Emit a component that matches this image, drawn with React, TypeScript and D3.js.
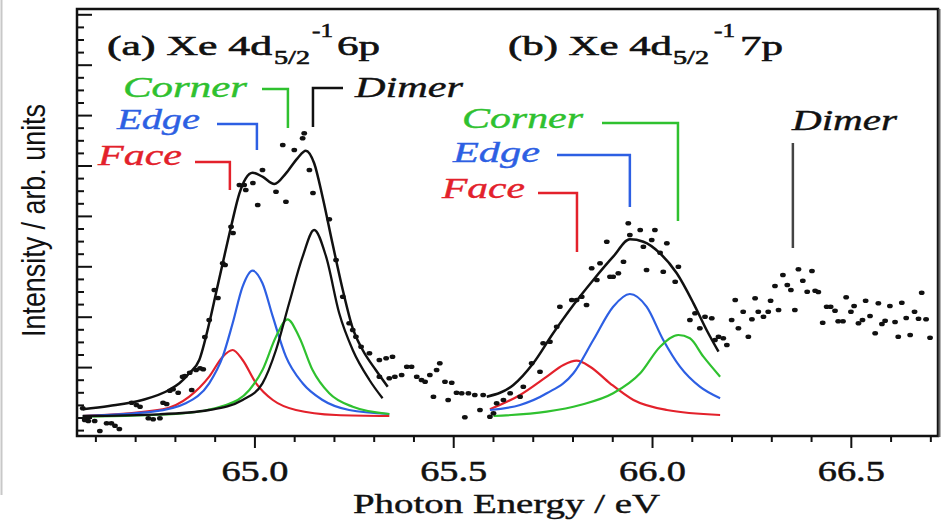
import { useEffect, useRef } from 'react'
import * as d3 from 'd3'

// Xe 4d(5/2)^-1 np resonances in clusters: fitted components + raw points.
// energies in eV, intensity in arb. units

const RED = '#e3212b'
const BLUE = '#2d5fe3'
const GREEN = '#2fc12f'
const INK = '#111'

const X_TICK_VALUES = [65.0, 65.5, 66.0, 66.5]
const X_TICK_LABELS = ['65.0', '65.5', '66.0', '66.5']

// (a) Xe 4d5/2^-1 6p
const FIT_A_TOTAL: [number, number][] = [
  [64.567, 0.114], [64.633, 0.18], [64.717, 0.3], [64.784, 0.5], [64.81, 0.634], [64.835, 0.834],
  [64.86, 1.1], [64.885, 1.834], [64.902, 2.434], [64.919, 3.034], [64.94, 3.766], [64.961, 4.434],
  [64.977, 4.734], [64.994, 4.846], [65.019, 4.766], [65.049, 4.62], [65.078, 4.834], [65.107, 5.134],
  [65.128, 5.286], [65.149, 5.034], [65.17, 4.366], [65.195, 3.434], [65.221, 2.5], [65.246, 1.734],
  [65.271, 1.3], [65.304, 0.9], [65.334, 0.566],
]
const FIT_A_DIMER: [number, number][] = [
  [64.567, -0.02], [64.759, 0.014], [64.885, 0.1], [64.969, 0.3], [65.019, 0.634], [65.053, 1.3],
  [65.086, 2.234], [65.12, 3.166], [65.149, 3.7], [65.179, 3.166], [65.212, 2.034], [65.246, 1.3],
  [65.288, 0.7], [65.321, 0.334],
]
const FIT_A_EDGE: [number, number][] = [
  [64.567, -0.02], [64.743, 0.066], [64.826, 0.234], [64.885, 0.634], [64.919, 1.166], [64.944, 1.834],
  [64.969, 2.566], [64.994, 2.886], [65.019, 2.634], [65.045, 1.966], [65.078, 1.166], [65.12, 0.634],
  [65.17, 0.3], [65.237, 0.1], [65.338, 0.02],
]
const FIT_A_FACE: [number, number][] = [
  [64.567, -0.02], [64.768, 0.114], [64.835, 0.366], [64.885, 0.766], [64.919, 1.166], [64.944, 1.3],
  [64.969, 1.1], [65.003, 0.634], [65.045, 0.3], [65.103, 0.1], [65.204, 0.0], [65.338, -0.02],
]
const FIT_A_CORNER: [number, number][] = [
  [64.567, -0.034], [64.801, 0.02], [64.927, 0.2], [64.986, 0.5], [65.019, 0.9], [65.053, 1.566],
  [65.082, 1.914], [65.111, 1.566], [65.145, 0.9], [65.187, 0.434], [65.246, 0.166], [65.338, 0.02],
]

// (b) Xe 4d5/2^-1 7p
const FIT_B_TOTAL: [number, number][] = [
  [65.583, 0.366], [65.65, 0.6], [65.7, 1.034], [65.75, 1.634], [65.801, 2.2], [65.851, 2.7],
  [65.901, 3.166], [65.943, 3.514], [65.977, 3.466], [66.019, 3.234], [66.061, 2.834], [66.103, 2.234],
  [66.136, 1.7], [66.166, 1.266],
]
const FIT_B_EDGE: [number, number][] = [
  [65.591, 0.1], [65.667, 0.2], [65.734, 0.434], [65.801, 0.834], [65.851, 1.5], [65.901, 2.166],
  [65.943, 2.42], [65.985, 2.166], [66.027, 1.5], [66.069, 0.966], [66.119, 0.566], [66.17, 0.334],
]
const FIT_B_FACE: [number, number][] = [
  [65.591, 0.114], [65.667, 0.4], [65.734, 0.766], [65.776, 1.0], [65.809, 1.086], [65.843, 0.966],
  [65.893, 0.634], [65.952, 0.3], [66.036, 0.1], [66.17, 0.0],
]
const FIT_B_CORNER: [number, number][] = [
  [65.6, -0.02], [65.734, 0.066], [65.818, 0.2], [65.901, 0.434], [65.969, 0.834], [66.019, 1.366],
  [66.065, 1.6], [66.094, 1.534], [66.128, 1.166], [66.17, 0.766],
]

// measured points
const DOTS: [number, number][] = [
  [64.567, 0.134], [64.572, -0.1], [64.581, -0.12], [64.597, -0.12], [64.61, -0.32], [64.627, -0.166],
  [64.639, -0.166], [64.648, -0.214], [64.659, -0.28], [64.69, 0.246], [64.702, 0.2], [64.711, 0.166],
  [64.732, -0.066], [64.744, -0.086], [64.761, -0.066], [64.769, 0.246], [64.778, 0.22], [64.786, 0.486],
  [64.794, 0.514], [64.807, 0.446], [64.818, 0.766], [64.824, 0.78], [64.836, 0.846], [64.841, 0.5],
  [64.852, 0.9], [64.862, 0.934], [64.87, 0.914], [64.874, 1.56], [64.885, 1.9], [64.898, 2.5],
  [64.907, 2.34], [64.919, 3.034], [64.925, 3.0], [64.94, 3.766], [64.945, 3.64], [64.961, 4.6],
  [64.973, 4.6], [64.977, 4.5], [64.995, 4.64], [65.007, 4.2], [65.019, 4.9], [65.053, 4.466],
  [65.07, 5.4], [65.078, 4.266], [65.099, 5.3], [65.12, 5.534], [65.124, 5.634], [65.137, 4.9],
  [65.146, 4.44], [65.187, 3.914], [65.204, 3.1], [65.221, 2.366], [65.237, 1.834], [65.246, 1.7],
  [65.254, 1.566], [65.267, 1.366], [65.288, 1.234], [65.313, 1.1], [65.33, 1.134], [65.346, 1.166],
  [65.313, 0.766], [65.338, 0.734], [65.352, 0.766], [65.369, 0.8], [65.382, 0.966], [65.394, 0.966],
  [65.407, 0.766], [65.419, 0.7], [65.428, 0.666], [65.44, 0.8], [65.457, 0.9], [65.465, 1.034],
  [65.449, 0.366], [65.478, 0.666], [65.495, 0.646], [65.486, 0.3], [65.507, 0.446], [65.52, 0.434],
  [65.537, 0.434], [65.553, 0.4], [65.574, 0.4], [65.528, -0.046], [65.566, 0.1], [65.591, -0.034],
  [65.6, 0.034], [65.608, 0.234], [65.625, 0.3], [65.642, 0.434], [65.667, 0.366], [65.675, 0.566],
  [65.696, 1.034], [65.717, 0.866], [65.725, 1.434], [65.742, 1.466], [65.759, 1.766], [65.767, 2.166],
  [65.797, 2.3], [65.809, 2.3], [65.822, 2.366], [65.834, 2.2], [65.847, 2.934], [65.868, 3.034],
  [65.86, 2.7], [65.893, 2.766], [65.901, 2.766], [65.914, 2.834], [65.885, 3.466], [65.927, 3.066],
  [65.939, 3.834], [65.943, 3.6], [65.969, 3.7], [66.006, 3.7], [65.977, 3.366], [65.985, 2.9],
  [65.998, 3.5], [66.019, 3.246], [66.027, 2.866], [66.036, 3.434], [66.057, 2.666], [66.065, 2.966],
  [66.094, 1.9], [66.107, 2.034], [66.119, 1.734], [66.132, 1.966], [66.149, 1.934], [66.166, 1.566],
  [66.178, 1.534], [66.187, 1.4], [66.157, 1.5], [66.199, 1.9], [66.208, 2.3], [66.216, 1.734],
  [66.228, 2.066], [66.241, 1.566], [66.25, 1.914], [66.258, 2.334], [66.266, 2.066], [66.279, 1.966],
  [66.291, 2.066], [66.297, 2.286], [66.308, 2.58], [66.317, 2.1], [66.328, 2.8], [66.339, 2.6],
  [66.348, 2.5], [66.358, 2.1], [66.367, 2.914], [66.378, 2.686], [66.389, 2.466], [66.401, 2.88],
  [66.409, 2.486], [66.417, 2.46], [66.428, 1.846], [66.438, 2.166], [66.448, 2.166], [66.459, 2.086],
  [66.467, 1.874], [66.479, 1.874], [66.487, 2.354], [66.499, 2.066], [66.507, 2.18], [66.518, 1.834],
  [66.528, 1.9], [66.536, 2.286], [66.547, 1.98], [66.56, 1.634], [66.568, 2.234], [66.577, 1.82],
  [66.585, 1.886], [66.597, 2.18], [66.61, 1.86], [66.618, 1.566], [66.627, 2.246], [66.638, 1.94],
  [66.648, 1.6], [66.659, 2.066], [66.669, 1.926], [66.677, 2.446], [66.688, 1.914], [66.698, 1.546],
]

// peak markers: label, colour, peak energy
const MARKERS = [
  { text: 'Corner', color: GREEN, e: 65.083, lx: 123, ly: 97, len: 124, hx: 262, top: 89, bot: 128 },
  { text: 'Edge', color: BLUE, e: 65.005, lx: 117, ly: 129, len: 83, hx: 217, top: 124, bot: 150 },
  { text: 'Face', color: RED, e: 64.937, lx: 98, ly: 165, len: 84, hx: 195, top: 162, bot: 190 },
  { text: 'Dimer', color: INK, e: 65.146, lx: 355, ly: 97, len: 108, hx: 343, top: 88, bot: 127 },
  { text: 'Corner', color: GREEN, e: 66.064, lx: 462, ly: 128, len: 121, hx: 602, top: 123, bot: 221 },
  { text: 'Edge', color: BLUE, e: 65.943, lx: 453, ly: 162, len: 87, hx: 557, top: 155, bot: 207 },
  { text: 'Face', color: RED, e: 65.81, lx: 442, ly: 198, len: 83, hx: 538, top: 193, bot: 252 },
  { text: 'Dimer', color: INK, e: 66.353, lx: 792, ly: 130, len: 105, hx: null, top: 143, bot: 248 },
]

export default function App() {
  const ref = useRef<SVGSVGElement>(null)

  useEffect(() => {
    const svg = d3.select(ref.current)
    svg.selectAll('*').remove()

    const L = 77, R = 938, T = 9, B = 436
    const x = d3.scaleLinear().domain([64.55, 66.718]).range([76, 938])
    const y = d3.scaleLinear().domain([-0.42, 8.12]).range([436, 9])

    const serif = "'Liberation Serif', 'Times New Roman', serif"

    // faint left page edge
    svg.append('line').attr('x1', 1.5).attr('x2', 1.5).attr('y1', 0).attr('y2', 495)
      .attr('stroke', '#c8c8c8').attr('stroke-width', 2)

    // fit curves
    const line = d3.line<[number, number]>()
      .x(d => x(d[0])).y(d => y(d[1]))
      .curve(d3.curveMonotoneX)

    const fits: [[number, number][], string, number][] = [
      [FIT_A_FACE, RED, 2.2], [FIT_A_EDGE, BLUE, 2.2], [FIT_A_CORNER, GREEN, 2.2], [FIT_A_DIMER, INK, 2.3],
      [FIT_A_TOTAL, INK, 2.5],
      [FIT_B_FACE, RED, 2.2], [FIT_B_EDGE, BLUE, 2.2], [FIT_B_CORNER, GREEN, 2.2], [FIT_B_TOTAL, INK, 2.5],
    ]
    fits.forEach(([pts, color, w]) => {
      svg.append('path').datum(pts)
        .attr('fill', 'none').attr('stroke', color).attr('stroke-width', w)
        .attr('stroke-linejoin', 'round').attr('d', line)
    })

    // data points
    svg.append('g').selectAll('ellipse').data(DOTS).join('ellipse')
      .attr('cx', d => x(d[0])).attr('cy', d => y(d[1]))
      .attr('rx', 2.9).attr('ry', 2.3).attr('fill', INK)

    // frame
    svg.append('path')
      .attr('d', `M${L},${B}V${T}H${R}V${B}Z`)
      .attr('fill', 'none').attr('stroke', INK).attr('stroke-width', 2.5)
    svg.append('line').attr('x1', R + 1.5).attr('x2', R + 1.5).attr('y1', T).attr('y2', B + 1)
      .attr('stroke', '#666').attr('stroke-width', 2)

    // left ticks (unlabelled, inward)
    d3.range(-1, 33).forEach(i => {
      const py = y(-0.06 + i * 0.252)
      const major = i % 4 === 0
      svg.append('line').attr('x1', L).attr('x2', L + (major ? 15 : 7))
        .attr('y1', py).attr('y2', py).attr('stroke', INK).attr('stroke-width', 2)
    })

    // bottom ticks (outward)
    d3.range(0, 22).forEach(i => {
      const v = 64.6 + i * 0.1
      const major = X_TICK_VALUES.some(t => Math.abs(t - v) < 1e-6)
      svg.append('line').attr('x1', x(v)).attr('x2', x(v))
        .attr('y1', B).attr('y2', B + (major ? 12 : 6)).attr('stroke', INK).attr('stroke-width', 2)
    })
    X_TICK_VALUES.forEach((v, i) => {
      svg.append('text').attr('x', x(v) - 33.5).attr('y', 481)
        .attr('font-family', serif).attr('font-size', 29).attr('fill', INK)
        .attr('stroke', INK).attr('stroke-width', 0.5)
        .attr('textLength', 67).attr('lengthAdjust', 'spacingAndGlyphs')
        .text(X_TICK_LABELS[i])
    })

    // axis titles
    svg.append('text').attr('x', 353).attr('y', 513)
      .attr('font-family', serif).attr('font-size', 27).attr('fill', INK)
      .attr('stroke', INK).attr('stroke-width', 0.4)
      .attr('textLength', 307).attr('lengthAdjust', 'spacingAndGlyphs')
      .text('Photon Energy / eV')
    svg.append('text').attr('transform', 'translate(45,221) rotate(-90)')
      .attr('x', -116).attr('y', 0)
      .attr('font-family', "'Liberation Sans Narrow', 'Liberation Sans', Arial, sans-serif")
      .attr('font-size', 33).attr('fill', INK)
      .attr('textLength', 233).attr('lengthAdjust', 'spacingAndGlyphs')
      .text('Intensity / arb. units')

    // panel titles
    const title = (x0: number, main: string, n: string, xs: number[]) => {
      const g = svg.append('g').attr('font-family', serif).attr('fill', INK)
        .attr('stroke', INK).attr('stroke-width', 0.6)
      const put = (t: string, tx: number, ty: number, size: number, len: number) =>
        g.append('text').attr('x', tx).attr('y', ty).attr('font-size', size)
          .attr('textLength', len).attr('lengthAdjust', 'spacingAndGlyphs').text(t)
      put(main, x0, 55, 28, xs[0])
      put('5/2', xs[1], 64, 19, 36)
      put('-1', xs[2], 37, 19, 21)
      put(n, xs[3], 55, 28, 43)
    }
    title(107, '(a) Xe 4d', '6p', [165, 274, 312, 337])
    title(508, '(b) Xe 4d', '7p', [164, 673, 714, 740])

    // peak labels with brackets
    MARKERS.forEach(m => {
      const vx = x(m.e)
      const d = m.hx == null
        ? `M${vx},${m.top}V${m.bot}`
        : `M${m.hx},${m.top}H${vx}V${m.bot}`
      svg.append('path').attr('d', d).attr('fill', 'none')
        .attr('stroke', m.hx == null ? '#444' : m.color).attr('stroke-width', 2.5)
      svg.append('text').attr('x', m.lx).attr('y', m.ly)
        .attr('font-family', serif).attr('font-style', 'italic').attr('font-size', 30)
        .attr('fill', m.color).attr('stroke', m.color).attr('stroke-width', 0.4)
        .attr('textLength', m.len).attr('lengthAdjust', 'spacingAndGlyphs')
        .text(m.text)
    })
  }, [])

  return (
    <svg ref={ref} width={949} height={521}
      style={{ position: 'absolute', left: 0, top: 0, background: '#fff' }} />
  )
}
